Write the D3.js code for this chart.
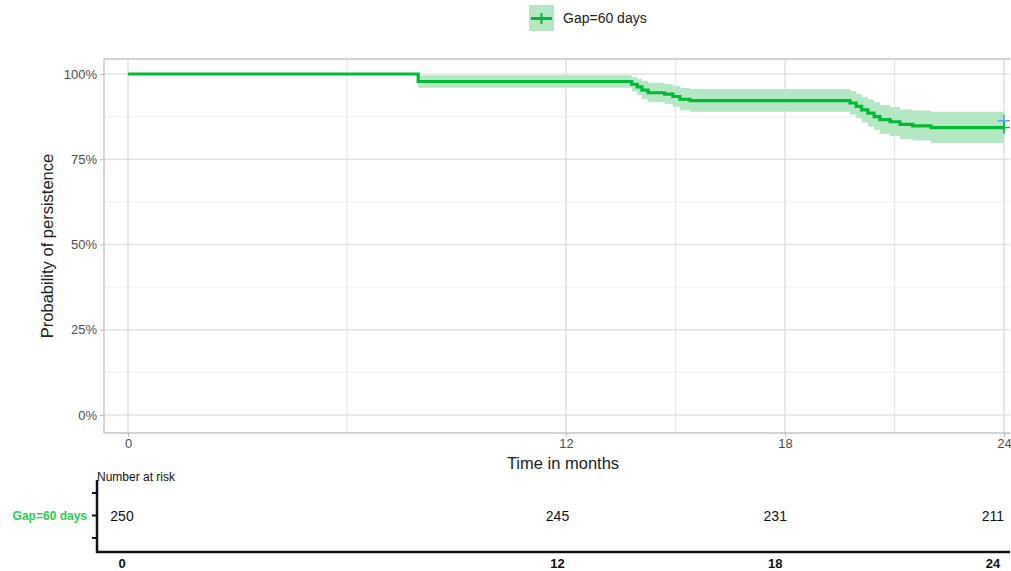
<!DOCTYPE html>
<html>
<head>
<meta charset="utf-8">
<script src="https://cdn.jsdelivr.net/npm/d3@7"></script>
<style>
  body { margin: 0; background: #fff; }
  svg { font-family: "Liberation Sans", Arial, sans-serif; }
</style>
</head>
<body>
<svg id="km" width="1011" height="571"></svg>
<script>
// KM estimate, months vs survival (step after)
const times = [0, 7.95, 13.8, 13.95, 14.08, 14.25, 14.7, 14.93, 15.12, 15.4, 19.78, 19.95, 20.1, 20.27, 20.44, 20.6, 20.88, 21.15, 21.5, 22.0, 24.0];
const surv  = [1, 0.978, 0.970, 0.962, 0.953, 0.945, 0.941, 0.934, 0.926, 0.922, 0.915, 0.905, 0.895, 0.885, 0.875, 0.866, 0.860, 0.852, 0.848, 0.843, 0.843];
const lower = [1, 0.960, 0.949, 0.938, 0.927, 0.917, 0.912, 0.904, 0.894, 0.889, 0.881, 0.870, 0.858, 0.846, 0.835, 0.825, 0.818, 0.809, 0.805, 0.798, 0.798];
const upper = [1, 0.996, 0.991, 0.986, 0.980, 0.974, 0.970, 0.965, 0.959, 0.956, 0.950, 0.941, 0.933, 0.925, 0.917, 0.909, 0.903, 0.896, 0.893, 0.889, 0.889];

const censorGreen = [{ t: 24, s: 0.843 }];
const censorBlue  = [{ t: 24, s: 0.863 }];

const xTicks = [0, 12, 18, 24];
const xMinor = [6, 15, 21];
const yTicks = [0, 0.25, 0.5, 0.75, 1];
const yMinor = [0.125, 0.375, 0.625, 0.875];

const riskTimes  = [0, 12, 18, 24];
const riskCounts = [250, 245, 231, 211];
const stratum = "Gap=60 days";

const green = "#00B935";
const bandFill = "#b4e8c2";

const svg = d3.select("#km");

const x = d3.scaleLinear().domain([0, 24]).range([128, 1004]);
const y = d3.scaleLinear().domain([0, 1]).range([415, 74]);

const panel = { left: 104, right: 1010, top: 59, bottom: 433 };

const km = times.map((t, i) => ({ t, s: surv[i], lo: lower[i], hi: upper[i] }));

// gridlines
const grid = svg.append("g");
grid.selectAll("line.ymin").data(yMinor).enter().append("line")
  .attr("x1", panel.left).attr("x2", panel.right)
  .attr("y1", d => y(d)).attr("y2", d => y(d))
  .attr("stroke", "#efefef").attr("stroke-width", 1);
grid.selectAll("line.xmin").data(xMinor).enter().append("line")
  .attr("y1", panel.top).attr("y2", panel.bottom)
  .attr("x1", d => x(d)).attr("x2", d => x(d))
  .attr("stroke", "#e6e6e6").attr("stroke-width", 1.2);
grid.selectAll("line.ymaj").data(yTicks).enter().append("line")
  .attr("x1", panel.left).attr("x2", panel.right)
  .attr("y1", d => y(d)).attr("y2", d => y(d))
  .attr("stroke", "#e3e3e3").attr("stroke-width", 1.3);
grid.selectAll("line.xmaj").data(xTicks).enter().append("line")
  .attr("y1", panel.top).attr("y2", panel.bottom)
  .attr("x1", d => x(d)).attr("x2", d => x(d))
  .attr("stroke", "#dcdcdc").attr("stroke-width", 1.3);

// panel border (left, top, bottom)
svg.append("path")
  .attr("d", `M${panel.right},${panel.top}H${panel.left}V${panel.bottom}H${panel.right}`)
  .attr("fill", "none").attr("stroke", "#c4c4c4").attr("stroke-width", 1.3);

// confidence band
const area = d3.area()
  .x(d => x(d.t)).y0(d => y(d.lo)).y1(d => y(d.hi))
  .curve(d3.curveStepAfter);
svg.append("path").datum(km)
  .attr("d", area).attr("fill", bandFill);

// survival line
const line = d3.line().x(d => x(d.t)).y(d => y(d.s)).curve(d3.curveStepAfter);
svg.append("path").datum(km)
  .attr("d", line).attr("fill", "none")
  .attr("stroke", green).attr("stroke-width", 3.2);

// censor marks
function cross(g, data, color) {
  g.selectAll(null).data(data).enter().append("path")
    .attr("d", d => `M${x(d.t) - 6},${y(d.s)}h12M${x(d.t)},${y(d.s) - 6}v12`)
    .attr("stroke", color).attr("stroke-width", 1.6);
}
cross(svg, censorBlue, "#619CFF");
cross(svg, censorGreen, green);

// axes
const yAxis = svg.append("g")
  .attr("transform", `translate(${panel.left},0)`)
  .call(d3.axisLeft(y).tickValues(yTicks).tickFormat(d3.format(".0%")).tickSize(4).tickPadding(3));
yAxis.select(".domain").remove();
yAxis.selectAll("line").attr("stroke", "#bdbdbd");
yAxis.selectAll("text").attr("fill", "#4d4d4d").style("font-size", "13px");

const xAxis = svg.append("g")
  .attr("transform", `translate(0,${panel.bottom})`)
  .call(d3.axisBottom(x).tickValues(xTicks).tickFormat(d3.format("d")).tickSize(4).tickPadding(2));
xAxis.select(".domain").remove();
xAxis.selectAll("line").attr("stroke", "#bdbdbd");
xAxis.selectAll("text").attr("fill", "#4d4d4d").style("font-size", "13px");

svg.append("text")
  .attr("transform", "translate(53,246) rotate(-90)")
  .attr("text-anchor", "middle")
  .style("font-size", "16.5px").attr("fill", "#222")
  .text("Probability of persistence");

svg.append("text")
  .attr("x", 563).attr("y", 469)
  .attr("text-anchor", "middle")
  .style("font-size", "16.5px").attr("fill", "#222")
  .text("Time in months");

// legend
const leg = svg.append("g");
leg.append("rect").attr("x", 529).attr("y", 5).attr("width", 25).attr("height", 26).attr("fill", bandFill);
leg.append("path").attr("d", "M531,18.5h21").attr("stroke", green).attr("stroke-width", 3);
leg.append("path").attr("d", "M541.5,13v11").attr("stroke", green).attr("stroke-width", 2);
leg.append("text").attr("x", 563).attr("y", 23)
  .style("font-size", "14px").attr("fill", "#222").text(stratum);

// risk table
const xr = d3.scaleLinear().domain([0, 24]).range([122, 993]);
const rt = { left: 97, right: 1010, top: 480, bottom: 552 };
const yr = d3.scalePoint().domain(["", stratum, " "]).range([538, 493]);

svg.append("text").attr("x", rt.left).attr("y", 481)
  .style("font-size", "12px").attr("fill", "#111").text("Number at risk");

const ra = svg.append("g");
ra.append("path")
  .attr("d", `M${rt.left},${rt.top}V${rt.bottom}H${rt.right}`)
  .attr("fill", "none").attr("stroke", "#111").attr("stroke-width", 2.5);
ra.selectAll("line.rt").data(yr.domain()).enter().append("line")
  .attr("x1", rt.left - 5).attr("x2", rt.left)
  .attr("y1", d => yr(d)).attr("y2", d => yr(d))
  .attr("stroke", "#111").attr("stroke-width", 2);

svg.append("text").attr("x", 87).attr("y", yr(stratum) + 4)
  .attr("text-anchor", "end")
  .style("font-size", "12px").style("font-weight", "bold")
  .attr("fill", "#2ecc4f").text(stratum);

svg.selectAll("text.cnt").data(riskTimes).enter().append("text")
  .attr("x", d => xr(d)).attr("y", yr(stratum) + 5)
  .attr("text-anchor", "middle")
  .style("font-size", "14px").attr("fill", "#111")
  .text((d, i) => riskCounts[i]);

svg.selectAll("text.rtick").data(riskTimes).enter().append("text")
  .attr("x", d => xr(d)).attr("y", 568)
  .attr("text-anchor", "middle")
  .style("font-size", "13px").style("font-weight", "bold").attr("fill", "#111")
  .text(d => d);
</script>
</body>
</html>
